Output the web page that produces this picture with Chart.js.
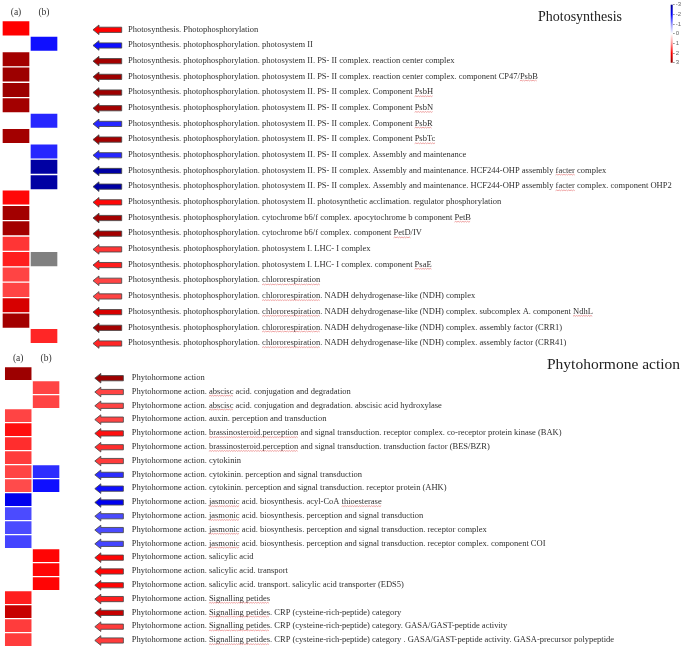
<!DOCTYPE html>
<html><head><meta charset="utf-8">
<script src="https://cdn.jsdelivr.net/npm/chart.js@4.4.1/dist/chart.umd.min.js"></script>
<style>
html,body{margin:0;padding:0;background:#fff;}
body{width:685px;height:649px;position:relative;overflow:hidden;}
canvas{position:absolute;}
</style></head><body>
<canvas id="ps" width="685" height="354" style="left:0;top:0"></canvas>
<canvas id="ph" width="685" height="304" style="left:0;top:345px"></canvas>
<canvas id="cb" width="30" height="70" style="left:655px;top:0"></canvas>
<script>
// ---------------- data ----------------
const COLUMN_LABELS = ['(a)', '(b)'];

const PS_TITLE = 'Photosynthesis';
const PS_LABELS = [
  'Photosynthesis. Photophosphorylation',
  'Photosynthesis. photophosphorylation. photosystem II',
  'Photosynthesis. photophosphorylation. photosystem II. PS- II complex. reaction center complex',
  'Photosynthesis. photophosphorylation. photosystem II. PS- II complex. reaction center complex. component CP47/PsbB',
  'Photosynthesis. photophosphorylation. photosystem II. PS- II complex. Component PsbH',
  'Photosynthesis. photophosphorylation. photosystem II. PS- II complex. Component PsbN',
  'Photosynthesis. photophosphorylation. photosystem II. PS- II complex. Component PsbR',
  'Photosynthesis. photophosphorylation. photosystem II. PS- II complex. Component PsbTc',
  'Photosynthesis. photophosphorylation. photosystem II. PS- II complex. Assembly and maintenance',
  'Photosynthesis. photophosphorylation. photosystem II. PS- II complex. Assembly and maintenance. HCF244-OHP assembly facter complex',
  'Photosynthesis. photophosphorylation. photosystem II. PS- II complex. Assembly and maintenance. HCF244-OHP assembly facter complex. component OHP2',
  'Photosynthesis. photophosphorylation. photosystem II. photosynthetic acclimation. regulator phosphorylation',
  'Photosynthesis. photophosphorylation. cytochrome b6/f complex. apocytochrome b component PetB',
  'Photosynthesis. photophosphorylation. cytochrome b6/f complex. component PetD/IV',
  'Photosynthesis. photophosphorylation. photosystem I. LHC- I complex',
  'Photosynthesis. photophosphorylation. photosystem I. LHC- I complex. component PsaE',
  'Photosynthesis. photophosphorylation. chlororespiration',
  'Photosynthesis. photophosphorylation. chlororespiration. NADH dehydrogenase-like (NDH) complex',
  'Photosynthesis. photophosphorylation. chlororespiration. NADH dehydrogenase-like (NDH) complex. subcomplex A. component NdhL',
  'Photosynthesis. photophosphorylation. chlororespiration. NADH dehydrogenase-like (NDH) complex. assembly factor (CRR1)',
  'Photosynthesis. photophosphorylation. chlororespiration. NADH dehydrogenase-like (NDH) complex. assembly factor (CRR41)'
];
// log2 fold change, column (a); null = no value
const PS_A = [2.0, null, 2.8, 2.85, 2.85, 2.8, null, 2.8, null, null, null, 1.95, 2.8, 2.8, 1.65, 1.8, 1.55, 1.55, 2.35, 2.8, null];
// column (b); NaN = grey (not available)
const PS_B = [null, -1.9, null, null, null, null, -1.75, null, -1.75, -2.8, -2.8, null, null, null, null, NaN, null, null, null, null, 1.75];

const PH_TITLE = 'Phytohormone action';
const PH_LABELS = [
  'Phytohormone action',
  'Phytohormone action. abscisc acid. conjugation and degradation',
  'Phytohormone action. abscisc acid. conjugation and degradation. abscisic acid hydroxylase',
  'Phytohormone action. auxin. perception and transduction',
  'Phytohormone action. brassinosteroid.perception and signal transduction. receptor complex. co-receptor protein kinase (BAK)',
  'Phytohormone action. brassinosteroid.perception and signal transduction. transduction factor (BES/BZR)',
  'Phytohormone action. cytokinin',
  'Phytohormone action. cytokinin. perception and signal transduction',
  'Phytohormone action. cytokinin. perception and signal transduction. receptor protein (AHK)',
  'Phytohormone action. jasmonic acid. biosynthesis. acyl-CoA thioesterase',
  'Phytohormone action. jasmonic acid. biosynthesis. perception and signal transduction',
  'Phytohormone action. jasmonic acid. biosynthesis. perception and signal transduction. receptor complex',
  'Phytohormone action. jasmonic acid. biosynthesis. perception and signal transduction. receptor complex. component COI',
  'Phytohormone action. salicylic acid',
  'Phytohormone action. salicylic acid. transport',
  'Phytohormone action. salicylic acid. transport. salicylic acid transporter (EDS5)',
  'Phytohormone action. Signalling petides',
  'Phytohormone action. Signalling petides. CRP (cysteine-rich-peptide) category',
  'Phytohormone action. Signalling petides. CRP (cysteine-rich-peptide) category. GASA/GAST-peptide activity',
  'Phytohormone action. Signalling petides. CRP (cysteine-rich-peptide) category . GASA/GAST-peptide activity. GASA-precursor polypeptide'
];
const PH_A = [2.85, null, null, 1.55, 1.9, 1.7, 1.6, 1.55, 1.5, -2.15, -1.5, -1.5, -1.55, null, null, null, 1.8, 2.5, 1.6, 1.6];
const PH_B = [null, 1.55, 1.55, null, null, null, null, -1.7, -1.9, null, null, null, null, 1.97, 1.97, 1.97, null, null, null, null];

const COLORBAR_TICKS = [-3, -2, -1, 0, 1, 2, 3];
const UNDERLINED = ['PsbB', 'PsbH', 'PsbN', 'PsbR', 'PsbTc', 'facter', 'PetB', 'PetD', 'PsaE',
  'chlororespiration', 'NdhL', 'abscisc', 'brassinosteroid.perception', 'jasmonic', 'thioesterase', 'Signalling petides'];

// ---------------- colour scale ----------------
const STOPS = [[-3, [0, 0, 140]], [-2, [0, 0, 255]], [-1, [150, 150, 255]], [0, [255, 255, 255]],
               [1, [255, 150, 150]], [2, [255, 0, 0]], [3, [140, 0, 0]]];
function rgbFor(v) {
  v = Math.max(-3, Math.min(3, v));
  for (let i = 0; i < STOPS.length - 1; i++) {
    const [v0, c0] = STOPS[i], [v1, c1] = STOPS[i + 1];
    if (v >= v0 && v <= v1) {
      const t = (v - v0) / (v1 - v0);
      return c0.map((c, k) => Math.round(c + (c1[k] - c) * t));
    }
  }
  return [255, 255, 255];
}
function colorFor(v) {
  if (v === null || v === undefined) return 'rgba(0,0,0,0)';
  if (Number.isNaN(v)) return 'rgb(128,128,128)';
  const c = rgbFor(v);
  return `rgb(${c[0]},${c[1]},${c[2]})`;
}

const SERIF = '"Liberation Serif", "Times New Roman", serif';
const LABEL_FONT_SIZE = 8.5;

// ---------------- plugins ----------------
const arrowPlugin = {
  id: 'rowArrows',
  afterDatasetsDraw(chart, args, o) {
    const xs = chart.scales.x, ys = chart.scales.y2, ctx = chart.ctx;
    const x0 = xs.getPixelForValue(o.from), x1 = xs.getPixelForValue(o.to);
    const hl = 6, hh = 4.8, sh = 2.6;
    ctx.save();
    o.a.forEach((va, i) => {
      const vb = o.b[i];
      const v = (vb !== null && !Number.isNaN(vb)) ? vb : va;
      if (v === null) return;
      const y = ys.getPixelForValue(i) + 0.5;
      ctx.beginPath();
      ctx.moveTo(x0, y);
      ctx.lineTo(x0 + hl, y - hh);
      ctx.lineTo(x0 + hl, y - sh);
      ctx.lineTo(x1, y - sh);
      ctx.lineTo(x1, y + sh);
      ctx.lineTo(x0 + hl, y + sh);
      ctx.lineTo(x0 + hl, y + hh);
      ctx.closePath();
      ctx.fillStyle = colorFor(v);
      ctx.fill();
      ctx.lineWidth = 1;
      ctx.strokeStyle = 'rgba(70,70,70,0.85)';
      ctx.stroke();
    });
    ctx.restore();
  }
};

const underlinePlugin = {
  id: 'spellUnderline',
  afterDraw(chart) {
    const ys = chart.scales.y2, ctx = chart.ctx;
    const labels = chart.options.plugins.rowArrows.labels;
    const pad = ys.options.ticks.padding;
    const x = ys.left + pad;
    ctx.save();
    ctx.font = `${LABEL_FONT_SIZE}px ${SERIF}`;
    ctx.strokeStyle = 'rgba(225,80,80,0.75)';
    ctx.lineWidth = 0.7;
    labels.forEach((lab, i) => {
      const y = ys.getPixelForValue(i) + 4.6;
      UNDERLINED.forEach(w => {
        let idx = lab.indexOf(w);
        while (idx >= 0) {
          const sx = x + ctx.measureText(lab.slice(0, idx)).width;
          const ww = ctx.measureText(w).width;
          ctx.beginPath();
          let up = true;
          ctx.moveTo(sx, y);
          for (let px = sx + 1.2; px <= sx + ww; px += 1.2) {
            ctx.lineTo(px, up ? y - 0.8 : y);
            up = !up;
          }
          ctx.stroke();
          idx = lab.indexOf(w, idx + w.length);
        }
      });
    });
    ctx.restore();
  }
};

const titlePlugin = {
  id: 'sectionTitle',
  afterDraw(chart, args, o) {
    const ctx = chart.ctx;
    ctx.save();
    ctx.font = `${o.size}px ${SERIF}`;
    ctx.fillStyle = '#222';
    ctx.textAlign = 'left';
    ctx.textBaseline = 'middle';
    ctx.fillText(o.text, o.x, o.y);
    ctx.restore();
  }
};

// ---------------- section builder ----------------
function makeSection(id, title, labels, aVals, bVals, g) {
  const mk = (vals, range, name) => ({
    label: name,
    data: vals.map(v => v === null ? null : range),
    backgroundColor: ctx => colorFor(vals[ctx.dataIndex]),
    borderColor: 'rgba(255,255,255,0.55)',
    borderWidth: 1,
    borderSkipped: false,
    barPercentage: 1,
    categoryPercentage: 1,
    grouped: false
  });
  return new Chart(document.getElementById(id), {
    type: 'bar',
    data: {
      labels: labels,
      datasets: [mk(aVals, [0, 1], COLUMN_LABELS[0]), mk(bVals, [1, 2], COLUMN_LABELS[1])]
    },
    options: {
      indexAxis: 'y',
      responsive: false,
      animation: false,
      events: [],
      layout: { padding: { left: g.left, top: 0, right: 0, bottom: g.bottom } },
      scales: {
        x: {
          type: 'linear', position: 'top', min: 0, max: g.xMax, bounds: 'data', offset: false,
          grid: { display: false, drawTicks: false }, border: { display: false },
          afterBuildTicks: s => { s.ticks = [{ value: 0.5 }, { value: 1.5 }]; s.min = 0; s.max = g.xMax; },
          afterFit: s => { s.height = g.top; s.paddingLeft = 0; s.paddingRight = 0; },
          ticks: {
            autoSkip: false, maxRotation: 0, padding: 3, color: '#333',
            font: { family: SERIF, size: 9.5 },
            callback: (v, i) => COLUMN_LABELS[i]
          }
        },
        y: { type: 'category', display: false },
        y2: {
          type: 'linear', position: 'right', reverse: true, min: g.lblMin, max: g.lblMax,
          bounds: 'data', offset: false,
          grid: { display: false, drawTicks: false, offset: false }, border: { display: false },
          afterBuildTicks: s => { s.ticks = labels.map((_, i) => ({ value: i })); s.min = g.lblMin; s.max = g.lblMax; },
          afterFit: s => { s.width = 685 - g.areaRight; s.paddingTop = 0; s.paddingBottom = 0; },
          ticks: {
            autoSkip: false, padding: 3, color: '#303030', crossAlign: 'near',
            font: { family: SERIF, size: LABEL_FONT_SIZE },
            callback: (v, i) => labels[i]
          }
        }
      },
      plugins: {
        legend: { display: false },
        tooltip: { enabled: false },
        rowArrows: { a: aVals, b: bVals, labels: labels, from: 3.25, to: 4.275 },
        sectionTitle: { text: title, x: g.titleX, y: g.titleY, size: g.titleSize }
      }
    },
    plugins: [arrowPlugin, underlinePlugin, titlePlugin]
  });
}

makeSection('ps', PS_TITLE, PS_LABELS, PS_A, PS_B, {
  left: 2, top: 20.7, bottom: 10.3, xMax: 4.393, areaRight: 125,
  lblMin: -0.548, lblMax: 20.045, titleX: 538, titleY: 17, titleSize: 14
});
makeSection('ph', PH_TITLE, PH_LABELS, PH_A, PH_B, {
  left: 4.3, top: 21.7, bottom: 2.3, xMax: 4.467, areaRight: 128.7,
  lblMin: -0.797, lblMax: 19.486, titleX: 547, titleY: 20, titleSize: 15.5
});

// ---------------- colour bar ----------------
const gradientPlugin = {
  id: 'gradientBar',
  beforeDatasetsDraw(chart) {
    const ys = chart.scales.y, ca = chart.chartArea, ctx = chart.ctx;
    const y0 = ys.getPixelForValue(-3), y1 = ys.getPixelForValue(3);
    const grad = ctx.createLinearGradient(0, y0, 0, y1);
    STOPS.forEach(([v, c]) => grad.addColorStop((v + 3) / 6, `rgb(${c[0]},${c[1]},${c[2]})`));
    ctx.save();
    ctx.fillStyle = grad;
    ctx.fillRect(ca.left, ca.top, ca.right - ca.left, ca.bottom - ca.top);
    ctx.restore();
  }
};
new Chart(document.getElementById('cb'), {
  type: 'bar',
  data: { labels: [''], datasets: [] },
  options: {
    responsive: false, animation: false, events: [],
    layout: { padding: { left: 15.7, top: 4.7, right: 0, bottom: 7.3 } },
    scales: {
      x: { display: false },
      y: {
        position: 'right', reverse: true, min: -3, max: 3, bounds: 'data', offset: false,
        afterBuildTicks: s => { s.ticks = COLORBAR_TICKS.map(v => ({ value: v })); },
        afterFit: s => { s.width = 12.3; s.paddingTop = 0; s.paddingBottom = 0; },
        grid: { drawOnChartArea: false, drawTicks: true, tickLength: 2, color: '#999' },
        border: { display: false },
        ticks: { autoSkip: false, padding: 1, color: '#666', font: { family: '"Liberation Sans", sans-serif', size: 6 },
                 callback: (v, i) => String(COLORBAR_TICKS[i]) }
      }
    },
    plugins: { legend: { display: false }, tooltip: { enabled: false } }
  },
  plugins: [gradientPlugin]
});
</script>
</body></html>
